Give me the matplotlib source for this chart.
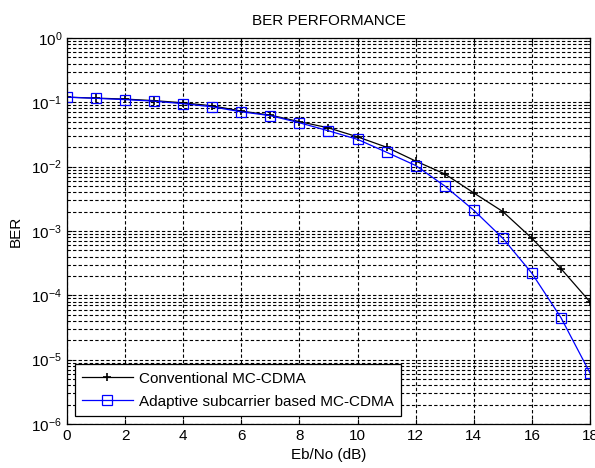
import matplotlib
matplotlib.use("Agg")
import matplotlib.pyplot as plt
from matplotlib.ticker import LogLocator, NullFormatter

plt.rcParams['font.family'] = ['Liberation Sans', 'DejaVu Sans']

# Eb/No sweep and simulated BER curves
ebno = [0, 1, 2, 3, 4, 5, 6, 7, 8, 9, 10, 11, 12, 13, 14, 15, 16, 17, 18]
ber_conventional = [0.12, 0.116, 0.112, 0.106, 0.098, 0.088, 0.073, 0.063, 0.050,
                    0.040, 0.029, 0.020, 0.0122, 0.0077, 0.0039, 0.0020,
                    7.7e-4, 2.6e-4, 7.9e-5]
ber_adaptive = [0.12, 0.115, 0.110, 0.104, 0.095, 0.085, 0.071, 0.062, 0.048,
                0.036, 0.0265, 0.0167, 0.0104, 0.0050, 0.0021, 7.7e-4,
                2.2e-4, 4.5e-5, 6.2e-6]

fig = plt.figure(figsize=(5.95, 4.68), dpi=100)
ax = fig.add_axes([0.1126, 0.094, 0.879, 0.825])

ax.semilogy(ebno, ber_conventional, color='black', marker='+', markersize=6,
            markeredgewidth=1.2, linewidth=0.9, label='Conventional MC-CDMA')
ax.semilogy(ebno, ber_adaptive, color='blue', marker='s', markersize=7,
            markerfacecolor='none', markeredgewidth=0.9, linewidth=0.9,
            label='Adaptive subcarrier based MC-CDMA')

ax.set_xlim(0, 18)
ax.set_ylim(1e-6, 1)
ax.set_xticks(range(0, 19, 2))
ax.yaxis.set_major_locator(LogLocator(base=10, numticks=10))
ax.yaxis.set_minor_locator(LogLocator(base=10, subs=range(2, 10), numticks=10))
ax.yaxis.set_minor_formatter(NullFormatter())

ax.grid(True, which='both', color='black', linestyle=(0, (3, 2)), linewidth=0.8)
ax.tick_params(which='both', direction='in', top=True, right=True, labelsize=11)
ax.tick_params(which='minor', length=2)
for s in ax.spines.values():
    s.set_linewidth(0.9)

ax.set_title('BER PERFORMANCE', fontsize=11, pad=9)
ax.set_xlabel('Eb/No (dB)', fontsize=11, labelpad=4)
ax.set_ylabel('BER', fontsize=11, labelpad=6)

leg = ax.legend(loc='lower left', fontsize=11, fancybox=False, framealpha=1,
                edgecolor='black', borderaxespad=0.5, handlelength=3.3,
                labelspacing=0.6, handletextpad=0.4, borderpad=0.5)
leg.get_frame().set_linewidth(0.9)

fig.savefig('out.png', dpi=100)
